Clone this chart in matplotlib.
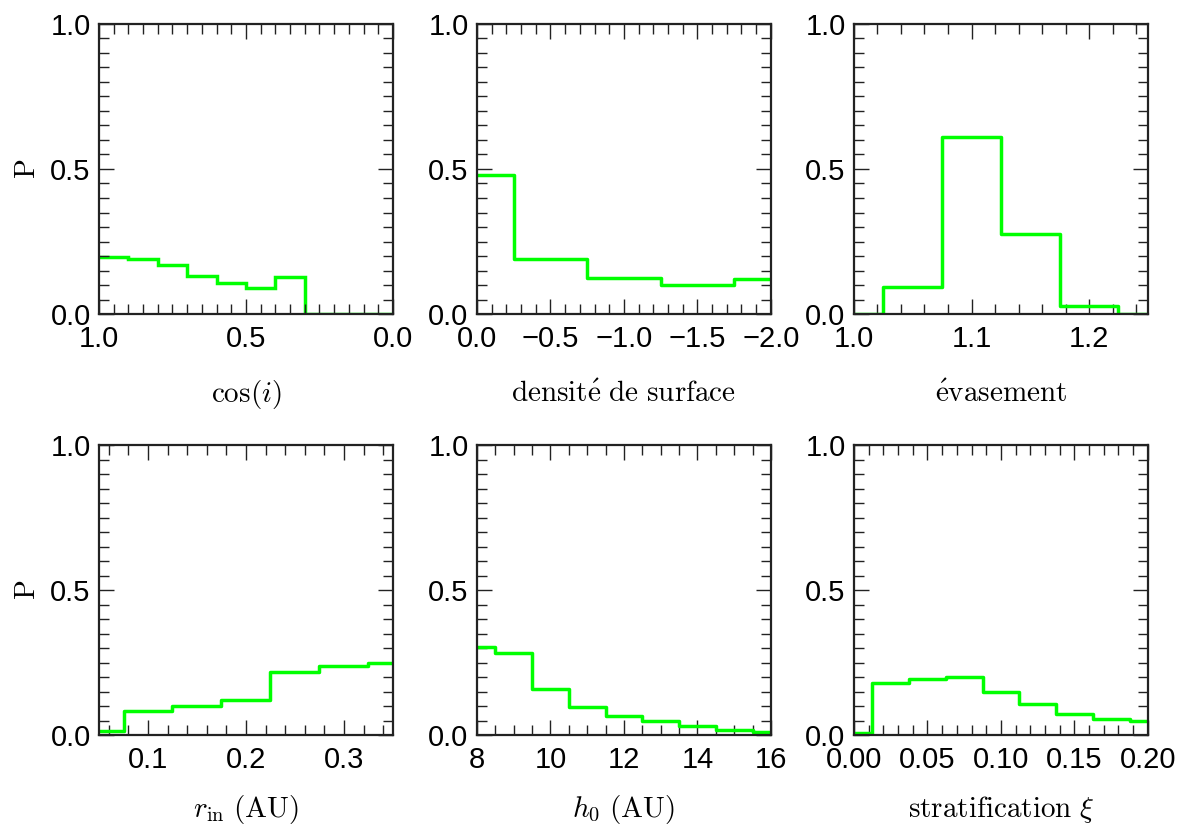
import numpy as np
import matplotlib
matplotlib.use("Agg")
from matplotlib import pyplot as plt
from matplotlib.ticker import MultipleLocator

plt.rcParams['font.family'] = ['Liberation Sans', 'DejaVu Sans']
plt.rcParams['mathtext.fontset'] = 'cm'

# --- data (probability per bin) ---
cosi_edges = [1.0, 0.9, 0.8, 0.7, 0.6, 0.5, 0.4, 0.3, 0.2, 0.1, 0.0]
cosi_p = [0.198, 0.190, 0.169, 0.132, 0.106, 0.091, 0.129, 0.0, 0.0, 0.0]

dens_x = [0.0, -0.5, -1.0, -1.5, -2.0]
dens_p = [0.479, 0.189, 0.123, 0.099, 0.120]

evas_x = [1.0, 1.05, 1.10, 1.15, 1.20, 1.25]
evas_p = [0.0, 0.094, 0.611, 0.275, 0.029, 0.0]

rin_x = [0.05, 0.10, 0.15, 0.20, 0.25, 0.30, 0.35]
rin_p = [0.015, 0.083, 0.101, 0.121, 0.218, 0.238, 0.247]

h0_x = [8, 9, 10, 11, 12, 13, 14, 15, 16]
h0_p = [0.305, 0.282, 0.159, 0.097, 0.064, 0.048, 0.030, 0.019, 0.010]

xi_x = [0.0, 0.025, 0.05, 0.075, 0.10, 0.125, 0.15, 0.175, 0.20]
xi_p = [0.008, 0.179, 0.194, 0.199, 0.148, 0.108, 0.073, 0.056, 0.047]

green = '#00ff00'

fig = plt.figure(figsize=(11.9, 8.27), dpi=100)

lefts = [0.0832, 0.4008, 0.7176]
bottoms = [0.6203, 0.1112]
w, h = 0.247, 0.3507


def setup(ax, xlim, xmaj, xmin, xlabel, ylab, label_y):
    ax.set_xlim(*xlim)
    ax.set_ylim(0, 1)
    ax.xaxis.set_major_locator(MultipleLocator(xmaj))
    ax.xaxis.set_minor_locator(MultipleLocator(xmin))
    ax.yaxis.set_major_locator(MultipleLocator(0.5))
    ax.yaxis.set_minor_locator(MultipleLocator(0.05))
    ax.tick_params(which='both', direction='in', top=True, right=True,
                   labelsize=21, color='#222222')
    ax.tick_params(which='major', length=11, width=1.0)
    ax.tick_params(which='minor', length=7, width=1.0)
    ax.tick_params(axis='x', pad=8)
    ax.tick_params(axis='y', pad=6)
    for s in ax.spines.values():
        s.set_linewidth(1.6)
        s.set_color('#222222')
    # x label placed on a fixed baseline below the axes
    ax.text(0.5, label_y, xlabel, transform=ax.transAxes, fontsize=21,
            ha='center', va='baseline')
    if ylab:
        ax.set_ylabel(r'$\mathrm{P}$', fontsize=21, labelpad=7)


top_y = -0.303
bot_y = -0.283

ax1 = fig.add_axes([lefts[0], bottoms[0], w, h])
ax1.stairs(cosi_p, cosi_edges, baseline=None, color=green, lw=2.5)
setup(ax1, (1.0, 0.0), 0.5, 0.05, r'$\cos(i)$', True, top_y)

ax2 = fig.add_axes([lefts[1], bottoms[0], w, h])
ax2.step(dens_x, dens_p, where='mid', color=green, lw=2.5)
setup(ax2, (0.0, -2.0), 0.5, 0.1, r'$\mathrm{densit\acute{e}\ de\ surface}$', False, top_y)

ax3 = fig.add_axes([lefts[2], bottoms[0], w, h])
ax3.step(evas_x, evas_p, where='mid', color=green, lw=2.5)
setup(ax3, (1.0, 1.25), 0.1, 0.02, r'$\mathrm{\acute{e}vasement}$', False, top_y)

ax4 = fig.add_axes([lefts[0], bottoms[1], w, h])
ax4.step(rin_x, rin_p, where='mid', color=green, lw=2.5)
setup(ax4, (0.05, 0.35), 0.1, 0.02, r'$r_\mathrm{in}\ \mathrm{(AU)}$', True, bot_y)

ax5 = fig.add_axes([lefts[1], bottoms[1], w, h])
ax5.step(h0_x, h0_p, where='mid', color=green, lw=2.5)
setup(ax5, (8, 16), 2, 0.5, r'$h_0\ \mathrm{(AU)}$', False, bot_y)

ax6 = fig.add_axes([lefts[2], bottoms[1], w, h])
ax6.step(xi_x, xi_p, where='mid', color=green, lw=2.5)
setup(ax6, (0.0, 0.2), 0.05, 0.01, r'$\mathrm{stratification}\ \xi$', False, bot_y)

fig.savefig('out.png', dpi=100)
